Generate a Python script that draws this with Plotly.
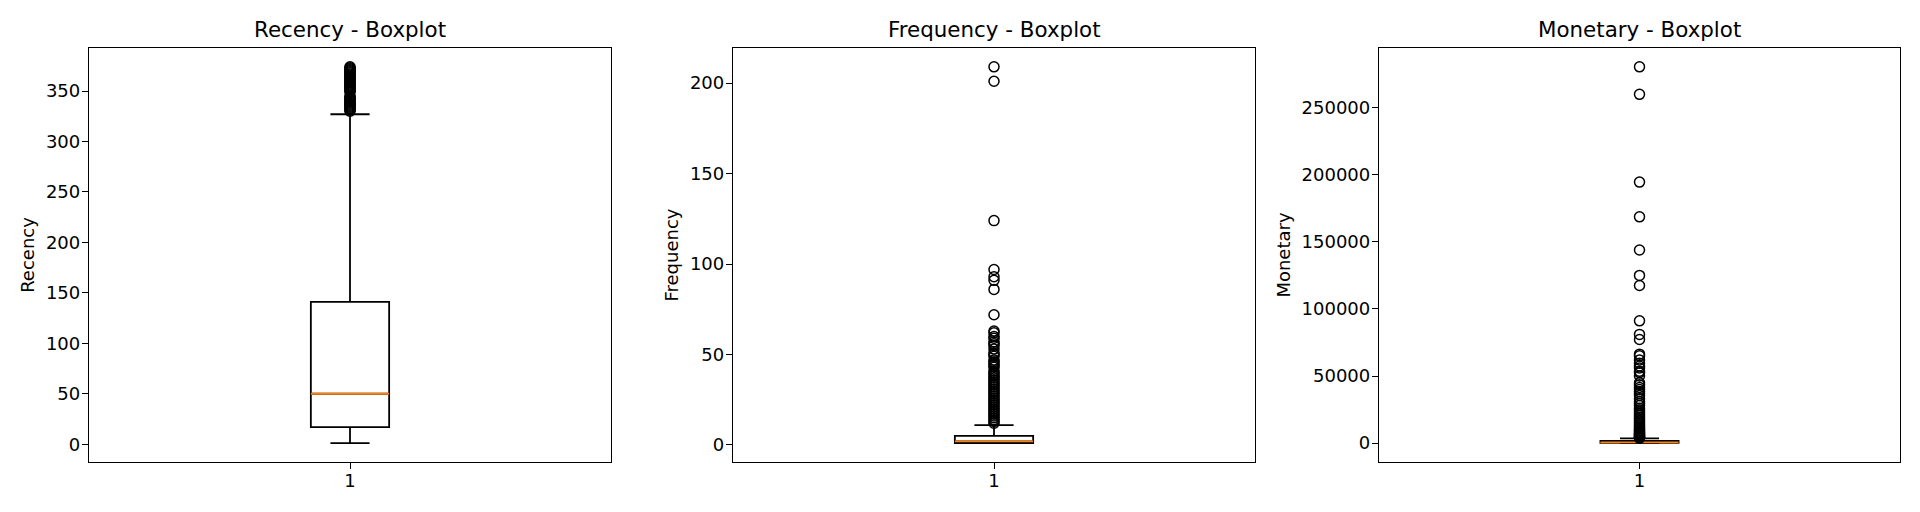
import plotly.graph_objects as go

# ---------------- data ----------------
metrics = ["Recency", "Frequency", "Monetary"]
positions = [1]

recency_stats = dict(lowerfence=1, q1=17, median=50, q3=141, upperfence=327)
recency_outliers = [330, 331, 332, 333, 334, 335, 336, 337, 338, 339, 340, 341,
                    342, 343, 344, 345, 349, 350, 351, 352, 353, 354, 355, 356,
                    357, 358, 359, 360, 361, 362, 363, 364, 365, 366, 367, 368,
                    369, 370, 371, 372, 373, 374]

frequency_stats = dict(lowerfence=1, q1=1, median=2, q3=5, upperfence=11)
frequency_outliers = [12, 13, 14, 15, 16, 17, 18, 19, 20, 21, 22, 23, 24, 25, 26,
                      27, 28, 29, 30, 31, 32, 33, 34, 35, 36, 37, 38, 39, 40, 41,
                      43, 44, 45, 46, 47, 49, 50, 51, 53, 55, 56, 57, 59, 60, 62,
                      63, 72, 86, 91, 93, 97, 124, 201, 209]

monetary_stats = dict(lowerfence=0, q1=300, median=650, q3=1610, upperfence=3590)
monetary_outliers = [3700, 3900, 4200, 4500, 4800, 5100, 5500, 5900, 6300, 6800,
                     7300, 7800, 8400, 9000, 9700, 10400, 11200, 12000, 12900,
                     13800, 14800, 15800, 16900, 18000, 19200, 20500, 21800,
                     23200, 24700, 26000, 28000, 29500, 31000, 33000, 35500,
                     37000, 38500, 40000, 41500, 43500, 45000, 50000, 52500,
                     53500, 56000, 57500, 59500, 62000, 65000, 66300, 77200,
                     81000, 91100, 117400, 124900, 143800, 168500, 194400,
                     259700, 280200]

y_tickvals = [
    [0, 50, 100, 150, 200, 250, 300, 350],
    [0, 50, 100, 150, 200],
    [0, 50000, 100000, 150000, 200000, 250000],
]
x_ticklabels = ["1"]

stats_list = [recency_stats, frequency_stats, monetary_stats]
outliers_list = [recency_outliers, frequency_outliers, monetary_outliers]

# ---------------- layout geometry ----------------
W, H = 1920, 512
OFF = 8  # page body margin offset
x_domains = [(89 - OFF, 611 - OFF), (733 - OFF, 1255 - OFF), (1379 - OFF, 1900 - OFF)]
y_top, y_bot = 48 - OFF, 462 - OFF

FONT = "DejaVu Sans"
BLACK = "#000000"
ORANGE = "#ff7f0e"
BOX_W = 0.15
TICK_FS = 18
TITLE_FS = 21.4

fig = go.Figure()
layout = dict(
    width=W, height=H,
    margin=dict(l=0, r=0, t=0, b=0),
    paper_bgcolor="white", plot_bgcolor="white",
    showlegend=False, boxmode="overlay",
    font=dict(family=FONT, size=TICK_FS, color=BLACK),
    annotations=[],
)

for i, (name, st, outs) in enumerate(zip(metrics, stats_list, outliers_list)):
    ax = "" if i == 0 else str(i + 1)
    xref, yref = "x" + ax, "y" + ax

    # box + whiskers
    fig.add_trace(go.Box(
        x=positions, q1=[st["q1"]], median=[st["median"]], q3=[st["q3"]],
        lowerfence=[st["lowerfence"]], upperfence=[st["upperfence"]],
        width=BOX_W, whiskerwidth=0.5, boxpoints=False,
        line=dict(color=BLACK, width=1.8), fillcolor="rgba(0,0,0,0)",
        xaxis=xref, yaxis=yref, hoverinfo="skip",
    ))
    # orange median line (degenerate box at the median)
    m = st["median"]
    fig.add_trace(go.Box(
        x=positions, q1=[m], median=[m], q3=[m], lowerfence=[m], upperfence=[m],
        width=BOX_W, whiskerwidth=0, boxpoints=False,
        line=dict(color=ORANGE, width=1.8), fillcolor="rgba(0,0,0,0)",
        xaxis=xref, yaxis=yref, hoverinfo="skip",
    ))
    # outliers (fliers)
    fig.add_trace(go.Scatter(
        x=[positions[0]] * len(outs), y=outs, mode="markers",
        marker=dict(symbol="circle-open", size=10, color=BLACK,
                    line=dict(width=1.5, color=BLACK)),
        xaxis=xref, yaxis=yref, hoverinfo="skip",
    ))

    lo = min([st["lowerfence"]] + outs)
    hi = max([st["upperfence"]] + outs)
    pad = 0.05 * (hi - lo)

    xd = [x_domains[i][0] / W, x_domains[i][1] / W]
    yd = [1 - y_bot / H, 1 - y_top / H]

    layout["xaxis" + ax] = dict(
        domain=xd, anchor=yref, range=[0.5, 1.5],
        tickvals=positions, ticktext=x_ticklabels,
        showline=True, mirror=True, linecolor=BLACK, linewidth=1.3,
        ticks="outside", ticklen=6, tickwidth=1.3, tickcolor=BLACK,
        ticklabelstandoff=-4,
        showgrid=False, zeroline=False,
        tickfont=dict(family=FONT, size=TICK_FS, color=BLACK),
    )
    layout["yaxis" + ax] = dict(
        domain=yd, anchor=xref, range=[lo - pad, hi + pad],
        tickvals=y_tickvals[i], tickformat="d",
        showline=True, mirror=True, linecolor=BLACK, linewidth=1.3,
        ticks="outside", ticklen=6, tickwidth=1.3, tickcolor=BLACK,
        ticklabelstandoff=-2,
        showgrid=False, zeroline=False,
        tickfont=dict(family=FONT, size=TICK_FS, color=BLACK),
        title=dict(text=name, font=dict(family=FONT, size=TICK_FS, color=BLACK),
                   standoff=6),
    )
    layout["annotations"].append(dict(
        text=f"{name} - Boxplot", xref="paper", yref="paper",
        x=(xd[0] + xd[1]) / 2, y=yd[1], xanchor="center", yanchor="bottom",
        yshift=4, showarrow=False,
        font=dict(family=FONT, size=TITLE_FS, color=BLACK),
    ))

fig.update_layout(**layout)
fig.write_html("out.html")
